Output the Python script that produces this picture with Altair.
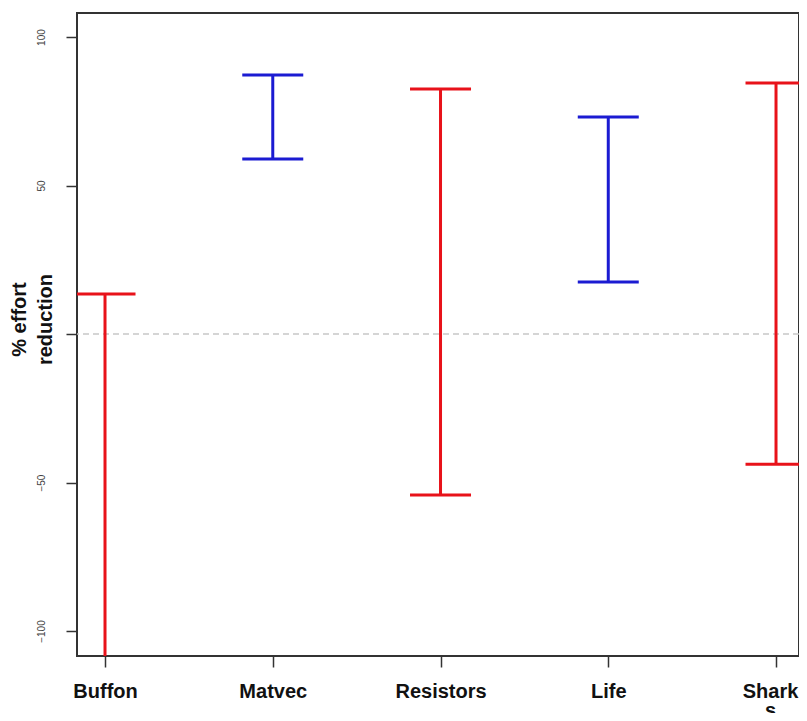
import json
import altair as alt
import pandas as pd

# ---- data ----
programs = ["Buffon", "Matvec", "Resistors", "Life", "Sharks"]
tick_lines = [["Buffon"], ["Matvec"], ["Resistors"], ["Life"], ["Shark", "s"]]
position = [1, 2, 3, 4, 5]
upper = [13.5, 87.2, 82.5, 73.1, 84.5]
lower = [-125.0, 58.9, -54.2, 17.5, -43.8]
kind = ["spans zero", "positive", "spans zero", "positive", "spans zero"]

df = pd.DataFrame({"program": programs, "pos": position, "lo": lower,
                   "hi": upper, "kind": kind})
zero_df = pd.DataFrame({"y": [0]})

RED = "#e8121a"
BLUE = "#1b1bd2"
color = alt.Color("kind:N", scale=alt.Scale(domain=["spans zero", "positive"],
                                             range=[RED, BLUE]), legend=None)

xscale = alt.Scale(domain=[0.833, 5.137], nice=False, zero=False)
yscale = alt.Scale(domain=[-108.4, 108.1], nice=False, zero=False)

label_expr = json.dumps(tick_lines) + "[datum.value - 1]"

xaxis = alt.Axis(values=position, labelExpr=label_expr, title=None,
                 domain=False, grid=False, tickSize=11, tickColor="#333333",
                 tickWidth=1.5, labelFont="Liberation Sans", labelFontWeight="bold",
                 labelFontSize=20, labelColor="#111111", labelPadding=14,
                 labelLineHeight=19, labelOverlap=False, labelFlush=False,
                 labelOffset={"condition": {"test": "datum.value == 5", "value": -6},
                              "value": 0})
yaxis = alt.Axis(values=[-100, -50, 0, 50, 100],
                 labelExpr="datum.value == 0 ? '' : datum.label",
                 title=["% effort", "reduction"], domain=False, grid=False,
                 tickSize=11, tickColor="#333333", tickWidth=1.5,
                 labelAngle=270, labelFont="Liberation Sans", labelFontSize=10,
                 labelColor="#444444", labelPadding=20,
                 titleFont="Liberation Sans", titleFontWeight="bold",
                 titleFontSize=20, titleColor="#111111", titleAngle=270,
                 titleLineHeight=26, titleAlign="center", titleBaseline="middle",
                 titleX=-58, titleY=306)

zero_line = alt.Chart(zero_df).mark_rule(
    color="#c8c8c8", strokeWidth=1.5, strokeDash=[6, 4]
).encode(y=alt.Y("y:Q", scale=yscale, axis=yaxis))

bars = alt.Chart(df).mark_rule(strokeWidth=3, clip=True).encode(
    x=alt.X("pos:Q", scale=xscale, axis=xaxis),
    y=alt.Y("lo:Q", scale=yscale),
    y2="hi:Q",
    color=color,
)
caps_hi = alt.Chart(df).mark_tick(orient="horizontal", size=61, thickness=3,
                                   clip=True, opacity=1).encode(
    x=alt.X("pos:Q", scale=xscale),
    y=alt.Y("hi:Q", scale=yscale),
    color=color,
)
caps_lo = alt.Chart(df).mark_tick(orient="horizontal", size=61, thickness=3,
                                   clip=True, opacity=1).encode(
    x=alt.X("pos:Q", scale=xscale),
    y=alt.Y("lo:Q", scale=yscale),
    color=color,
)

chart = alt.layer(zero_line, bars, caps_hi, caps_lo).properties(
    width=722, height=643,
    autosize=alt.AutoSizeParams(type="none"),
    padding={"left": 69, "top": 5, "right": 0, "bottom": 57},
    background="white",
).configure_view(stroke="#333333", strokeWidth=2)

chart.save("out.html", embed_options={"renderer": "svg", "actions": False})
